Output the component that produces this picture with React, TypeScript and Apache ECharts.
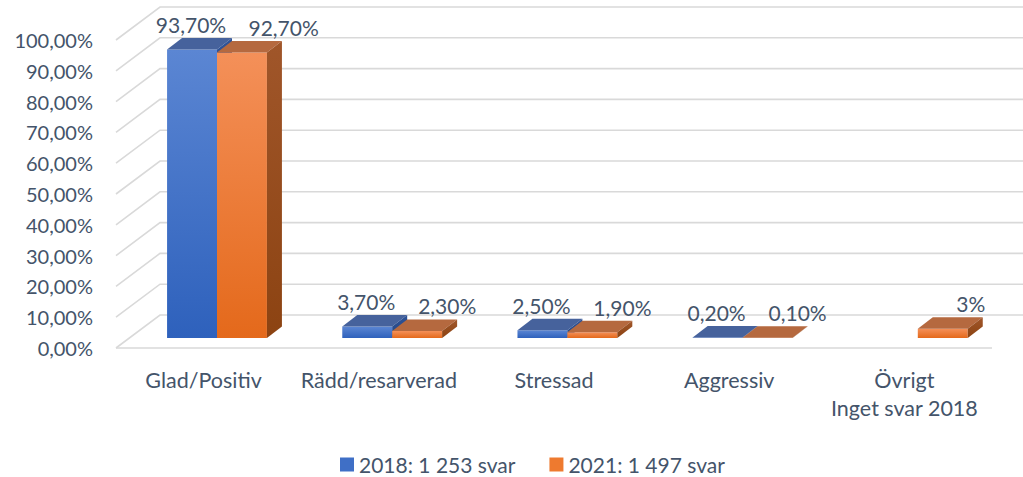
import React, { useEffect, useRef } from 'react';
import * as echarts from 'echarts';

const categories = ['Glad/Positiv', 'Rädd/resarverad', 'Stressad', 'Aggressiv', 'Övrigt\nInget svar 2018'];
const seriesNames = ['2018: 1 253 svar', '2021: 1 497 svar'];
const values2018: (number | null)[] = [93.7, 3.7, 2.5, 0.2, null];
const values2021: (number | null)[] = [92.7, 2.3, 1.9, 0.1, 3];
const labels2018 = ['93,70%', '3,70%', '2,50%', '0,20%', ''];
const labels2021 = ['92,70%', '2,30%', '1,90%', '0,10%', '3%'];
const yTicks = [0, 10, 20, 30, 40, 50, 60, 70, 80, 90, 100];

const FONT = 'Lato, "Open Sans", sans-serif';
const TEXT = '#44546A';
const GRID = '#D9D9D9';
// depth offsets (oblique 3D projection)
const WALL_DX = 44;
const WALL_DY = -33;
const BAR_FX = 13.4;
const BAR_FY = -10;
const BAR_DX = 15;
const BAR_DY = -11.5;
const CHAR_W = 11.6;

const palettes = [
  {
    front: ['#5B86D3', '#2E61BC'],
    top: '#46629C',
    side: ['#2F5397', '#244683'],
    legend: '#3F6FC6',
  },
  {
    front: ['#F49059', '#E4691B'],
    top: '#B5693F',
    side: ['#A0562A', '#8C4312'],
    legend: '#EE7A2F',
  },
];

export default function App() {
  const ref = useRef<HTMLDivElement>(null);
  useEffect(() => {
    document.body.style.margin = '0';
    const chart = echarts.init(ref.current!, null, { renderer: 'svg' });

    const gridRender = (params: any, api: any) => {
      const cs = params.coordSys;
      const x0 = cs.x;
      const x1 = cs.x + cs.width;
      const v = api.value(1);
      const y = api.coord([0, v])[1];
      const children: any[] = [
        {
          type: 'polyline',
          shape: { points: [[x0, y], [x0 + WALL_DX, y + WALL_DY], [x1 + WALL_DX + 40, y + WALL_DY]] },
          style: { stroke: GRID, lineWidth: 1.6, fill: null },
        },
      ];
      if (v === 0) {
        children.push({
          type: 'line',
          shape: { x1: x0, y1: y, x2: x1, y2: y },
          style: { stroke: GRID, lineWidth: 1.6 },
        });
      }
      return { type: 'group', children };
    };

    const makeBarRender = (side: number, labels: string[]) => (params: any, api: any) => {
      const v = api.value(1);
      if (v == null || isNaN(v)) return null;
      const ci = api.value(0);
      const p = palettes[side];
      const base = api.coord([ci, 0]);
      const top = api.coord([ci, v]);
      const band = api.size([1, 0])[0];
      const w = band * 0.285;
      const cx = base[0] + BAR_FX;
      const xL = side === 0 ? cx - w : cx;
      const xR = xL + w;
      const yB = base[1] + BAR_FY;
      const yT = top[1] + BAR_FY;
      let lx = (xL + xR) / 2 - 1;
      if (side === 1) {
        lx = (xL + xR) / 2 + 28;
        const other = labels2018[ci];
        if (other) {
          const blueCenter = cx - w / 2 - 1;
          const minX = blueCenter + (CHAR_W * (other.length + labels[ci].length)) / 2 + 23;
          lx = Math.max(lx, minX);
        }
      }
      return {
        type: 'group',
        children: [
          {
            type: 'rect',
            shape: { x: xL, y: yT, width: w, height: Math.max(yB - yT, 0.01) },
            style: {
              fill: new echarts.graphic.LinearGradient(0, 0, 0, 1, [
                { offset: 0, color: p.front[0] },
                { offset: 1, color: p.front[1] },
              ]),
            },
          },
          {
            type: 'polygon',
            shape: { points: [[xL, yT], [xR, yT], [xR + BAR_DX, yT + BAR_DY], [xL + BAR_DX, yT + BAR_DY]] },
            style: { fill: p.top },
          },
          {
            type: 'polygon',
            shape: { points: [[xR, yT], [xR + BAR_DX, yT + BAR_DY], [xR + BAR_DX, yB + BAR_DY], [xR, yB]] },
            style: {
              fill: new echarts.graphic.LinearGradient(0, 0, 0, 1, [
                { offset: 0, color: p.side[0] },
                { offset: 1, color: p.side[1] },
              ]),
            },
          },
          {
            type: 'text',
            style: {
              text: labels[ci],
              x: lx,
              y: yT - 25,
              align: 'center',
              verticalAlign: 'middle',
              fill: TEXT,
              font: `21px ${FONT}`,
            },
          },
        ],
      };
    };

    chart.setOption({
      animation: false,
      backgroundColor: '#ffffff',
      grid: { left: 116, top: 40, width: 876, height: 308 },
      legend: {
        top: 449,
        left: 335,
        icon: 'rect',
        itemWidth: 14,
        itemHeight: 14,
        itemGap: 34,
        data: seriesNames,
        textStyle: { color: TEXT, fontSize: 21, fontFamily: FONT },
      },
      xAxis: {
        type: 'category',
        data: categories,
        axisLine: { show: false },
        axisTick: { show: false },
        splitLine: { show: false },
        axisLabel: {
          color: TEXT,
          fontSize: 21.5,
          fontFamily: FONT,
          margin: 18,
          lineHeight: 28,
          interval: 0,
        },
      },
      yAxis: {
        type: 'value',
        min: 0,
        max: 100,
        interval: 10,
        axisLine: { show: false },
        axisTick: { show: false },
        splitLine: { show: false },
        axisLabel: {
          color: TEXT,
          fontSize: 20,
          fontFamily: FONT,
          margin: 23,
          formatter: (v: number) => `${v.toFixed(2).replace('.', ',')}%`,
        },
      },
      series: [
        {
          type: 'custom',
          name: 'grid',
          silent: true,
          z: 1,
          renderItem: gridRender,
          data: yTicks.map((t) => [0, t]),
        },
        {
          type: 'custom',
          name: seriesNames[0],
          z: 2,
          itemStyle: { color: palettes[0].legend },
          renderItem: makeBarRender(0, labels2018),
          data: values2018.map((v, i) => [i, v == null ? NaN : v]),
        },
        {
          type: 'custom',
          name: seriesNames[1],
          z: 3,
          itemStyle: { color: palettes[1].legend },
          renderItem: makeBarRender(1, labels2021),
          data: values2021.map((v, i) => [i, v == null ? NaN : v]),
        },
      ],
    });
    return () => chart.dispose();
  }, []);
  return (
    <div
      ref={ref}
      style={{ position: 'fixed', left: 0, top: 0, width: 1023, height: 477, background: '#fff' }}
    />
  );
}
